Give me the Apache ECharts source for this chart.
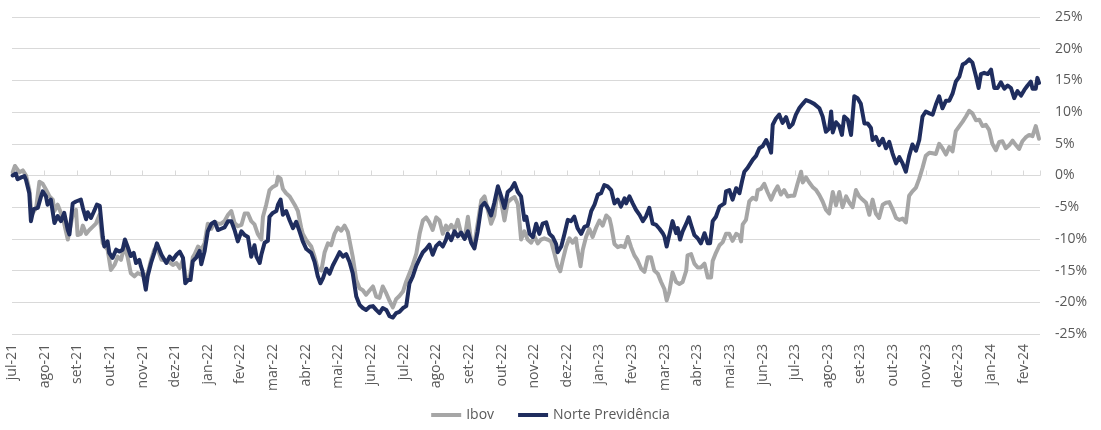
<!DOCTYPE html>
<html>
<head>
<meta charset="utf-8">
<script src="https://cdn.jsdelivr.net/npm/echarts@6.0.0/dist/echarts.min.js"></script>
<style>
html,body{margin:0;padding:0;background:#fff;}
#chart{width:1101px;height:430px;}
</style>
</head>
<body>
<div id="chart"></div>
<script>
// Month labels (x positions are months elapsed since jul-21)
const monthLabels = ['jul-21','ago-21','set-21','out-21','nov-21','dez-21','jan-22','fev-22','mar-22','abr-22','mai-22','jun-22','jul-22','ago-22','set-22','out-22','nov-22','dez-22','jan-23','fev-23','mar-23','abr-23','mai-23','jun-23','jul-23','ago-23','set-23','out-23','nov-23','dez-23','jan-24','fev-24'];

const yTicks = [-25,-20,-15,-10,-5,0,5,10,15,20,25];

// Ibov cumulative return (%), [months since jul-21, value]
const ibov = [
[0.02,0.5],[0.09,1.5],[0.23,0.5],[0.33,0.8],[0.43,0],[0.53,-2.2],[0.60,-6.2],[0.74,-5.1],[0.84,-1],[0.94,-1.3],[1.04,-2.2],[1.15,-3.3],[1.25,-3.8],[1.30,-5.6],[1.40,-4.6],[1.50,-5.9],[1.60,-7.6],[1.71,-10.1],[1.76,-10.4],[1.86,-6.2],[1.96,-5.4],[2.01,-9.4],[2.11,-9.2],[2.17,-7.9],[2.27,-9.2],[2.37,-8.6],[2.47,-8.1],[2.57,-7.6],[2.68,-6.2],[2.78,-10.7],[2.93,-11.7],[3.03,-14.9],[3.14,-14.1],[3.24,-12.8],[3.34,-13.3],[3.44,-11.2],[3.54,-12.8],[3.64,-15.4],[3.75,-15.9],[3.85,-15.4],[3.95,-15.6],[4.06,-15.9],[4.16,-15.4],[4.26,-13.3],[4.36,-11.7],[4.44,-11.3],[4.58,-13.3],[4.78,-13.5],[4.93,-14.1],[5.04,-13.8],[5.14,-14.6],[5.24,-13.3],[5.34,-16.5],[5.44,-16.2],[5.54,-12.9],[5.60,-12.4],[5.70,-11.2],[5.80,-11.7],[5.90,-10.7],[6.00,-7.6],[6.11,-8.4],[6.21,-7.3],[6.31,-7.6],[6.41,-7.6],[6.51,-7.2],[6.62,-6.2],[6.72,-5.6],[6.82,-7.5],[6.92,-8],[7.03,-7.8],[7.13,-6],[7.23,-6],[7.33,-7.2],[7.43,-7.7],[7.53,-9.2],[7.64,-10.1],[7.69,-6.5],[7.79,-4.6],[7.89,-2.3],[7.99,-1.8],[8.10,-1.5],[8.15,-0.2],[8.23,-0.5],[8.30,-2.1],[8.40,-2.8],[8.51,-3.3],[8.66,-4.6],[8.76,-5.6],[8.86,-8.2],[8.91,-9.2],[9.02,-10.2],[9.17,-11.2],[9.27,-12.8],[9.37,-14.7],[9.48,-15],[9.58,-12.1],[9.68,-10.7],[9.78,-11],[9.88,-9.2],[9.98,-8.2],[10.09,-8.7],[10.19,-7.9],[10.29,-8.9],[10.34,-9.2],[10.44,-12.8],[10.55,-16.5],[10.65,-17.8],[10.75,-18.1],[10.85,-18.8],[10.96,-18.1],[11.06,-17.5],[11.16,-19.1],[11.26,-19.3],[11.36,-17.5],[11.47,-18.6],[11.57,-19.8],[11.67,-20.8],[11.77,-19.5],[11.87,-19],[11.98,-18.3],[12.08,-16.7],[12.18,-15.4],[12.28,-14.1],[12.39,-12.3],[12.49,-9.2],[12.59,-7.1],[12.69,-6.6],[12.79,-7.4],[12.89,-8.6],[13.00,-6.6],[13.10,-7.1],[13.20,-9.2],[13.30,-7.9],[13.35,-8.6],[13.46,-7.8],[13.56,-8.6],[13.66,-7.0],[13.76,-9.1],[13.87,-9.9],[13.97,-6.5],[14.07,-10.4],[14.17,-10.7],[14.27,-7.6],[14.38,-3.9],[14.48,-3.3],[14.58,-5.4],[14.68,-7.6],[14.78,-6.3],[14.89,-2.1],[14.99,-4.2],[15.09,-7.1],[15.19,-4.2],[15.30,-3.7],[15.40,-3.4],[15.50,-4.5],[15.60,-10.1],[15.70,-8.8],[15.80,-10.1],[15.91,-10.6],[16.01,-9.6],[16.11,-10.7],[16.21,-10.1],[16.31,-9.9],[16.41,-10.1],[16.52,-10.4],[16.62,-12.3],[16.72,-14.3],[16.80,-15.1],[16.87,-13.5],[16.98,-11.2],[17.08,-9.9],[17.18,-10.6],[17.28,-9.9],[17.33,-11.7],[17.42,-14.3],[17.49,-11.7],[17.59,-9.7],[17.69,-8.4],[17.79,-9.7],[17.90,-8.2],[18.00,-7.1],[18.10,-7.9],[18.21,-6.3],[18.31,-6.8],[18.36,-7.9],[18.46,-10.8],[18.56,-11.3],[18.66,-11.1],[18.77,-11.3],[18.87,-9.7],[18.97,-11.3],[19.07,-12.6],[19.17,-13.4],[19.28,-14.7],[19.38,-15.2],[19.48,-12.9],[19.58,-12.9],[19.68,-15],[19.79,-15.5],[19.89,-16.8],[19.99,-17.9],[20.06,-19.7],[20.14,-18.4],[20.24,-15.3],[20.35,-16.8],[20.45,-17.1],[20.55,-16.8],[20.66,-15],[20.70,-12.6],[20.81,-12.4],[20.91,-13.9],[21.01,-14.5],[21.11,-14.5],[21.22,-13.9],[21.32,-16.1],[21.42,-16.1],[21.47,-13.5],[21.57,-12.2],[21.68,-11],[21.78,-10.5],[21.88,-9.2],[21.98,-9.2],[22.08,-10.3],[22.19,-9.2],[22.29,-9.5],[22.34,-10.4],[22.39,-7.7],[22.49,-7],[22.59,-4.1],[22.70,-3.5],[22.80,-3.8],[22.85,-2.3],[22.95,-2.1],[23.05,-1.3],[23.15,-2.6],[23.26,-3.8],[23.36,-2.6],[23.46,-1.7],[23.56,-3.0],[23.66,-2.3],[23.77,-3.3],[23.87,-3.2],[23.97,-3.2],[24.07,-1.3],[24.18,0.6],[24.23,-1.1],[24.33,-0.3],[24.43,-1.1],[24.53,-1.8],[24.64,-2.3],[24.74,-3.1],[24.84,-4.1],[24.94,-5.4],[25.04,-6],[25.15,-2.6],[25.25,-4.7],[25.35,-2.6],[25.45,-5],[25.56,-3.3],[25.66,-4.3],[25.76,-5],[25.86,-2.3],[25.96,-3.3],[26.06,-3.8],[26.17,-4.3],[26.27,-6.2],[26.37,-3.8],[26.47,-6],[26.57,-6.7],[26.68,-4.6],[26.78,-4.3],[26.88,-4.2],[26.98,-5.3],[27.09,-6.7],[27.19,-7],[27.29,-6.8],[27.39,-7.4],[27.49,-3.2],[27.59,-2.5],[27.70,-1.9],[27.80,-0.5],[27.90,1.2],[28.00,3.1],[28.11,3.6],[28.21,3.5],[28.31,3.4],[28.41,5.0],[28.51,4.3],[28.62,3.3],[28.72,4.5],[28.82,3.8],[28.92,7.0],[29.03,7.8],[29.13,8.5],[29.23,9.3],[29.33,10.2],[29.43,9.8],[29.54,8.7],[29.64,8.8],[29.74,7.8],[29.84,8],[29.94,7.2],[30.04,5.0],[30.15,4.0],[30.25,5.3],[30.35,5.4],[30.45,4.3],[30.56,4.8],[30.66,5.5],[30.76,4.8],[30.86,4.2],[30.96,5.4],[31.06,6.0],[31.17,6.4],[31.27,6.2],[31.37,7.8],[31.42,7.5],[31.47,5.8]
];

// Norte Previdência cumulative return (%), [months since jul-21, value]
const norte = [
[0.02,0],[0.12,0.3],[0.17,-0.6],[0.28,-0.3],[0.38,-0.1],[0.43,-0.7],[0.53,-2.8],[0.58,-7.2],[0.66,-5.3],[0.79,-5.1],[0.89,-3.3],[0.94,-2.5],[1.04,-3.3],[1.09,-4.6],[1.19,-3.8],[1.30,-7.5],[1.40,-6.4],[1.50,-7.2],[1.60,-5.9],[1.71,-8.6],[1.76,-9.3],[1.86,-4.4],[1.96,-4.1],[2.11,-3.8],[2.17,-5.1],[2.27,-6.9],[2.32,-5.8],[2.42,-6.7],[2.50,-5.8],[2.60,-4.6],[2.69,-4.8],[2.78,-9.6],[2.83,-11.2],[2.93,-10.4],[2.98,-12.2],[3.08,-13],[3.19,-11.7],[3.29,-12],[3.39,-11.7],[3.46,-10.1],[3.54,-11.2],[3.64,-12.7],[3.73,-12.2],[3.80,-13.8],[3.90,-13.3],[3.95,-14.3],[4.00,-15.1],[4.06,-15.3],[4.10,-18],[4.16,-15.8],[4.26,-13.8],[4.36,-12.2],[4.44,-10.7],[4.58,-12.5],[4.73,-13.8],[4.83,-12.8],[4.93,-13.3],[5.04,-12.5],[5.14,-12],[5.24,-13],[5.31,-17],[5.39,-16.5],[5.47,-16.5],[5.54,-13.5],[5.65,-12.9],[5.75,-11.9],[5.80,-14],[5.90,-12],[6.00,-8.8],[6.11,-7.6],[6.21,-7.3],[6.31,-8.6],[6.41,-8.4],[6.51,-8.2],[6.62,-7.2],[6.72,-7.2],[6.82,-8.6],[6.92,-10.4],[7.03,-8.8],[7.13,-9.4],[7.23,-9.7],[7.33,-12.8],[7.43,-11],[7.49,-12.8],[7.59,-13.8],[7.64,-12.5],[7.74,-10.6],[7.84,-10.3],[7.89,-6.5],[7.99,-5.9],[8.10,-5.6],[8.15,-4.6],[8.23,-3.8],[8.30,-6.2],[8.40,-5.6],[8.51,-7.1],[8.61,-8.3],[8.71,-7.3],[8.81,-8.8],[8.91,-10.4],[9.02,-11.6],[9.17,-12.2],[9.27,-13.6],[9.37,-15.9],[9.45,-17],[9.53,-16.2],[9.63,-14.7],[9.73,-15.5],[9.83,-14.2],[9.94,-13.1],[10.04,-12.1],[10.14,-12.8],[10.24,-12.4],[10.34,-13.6],[10.44,-15.4],[10.55,-19.1],[10.65,-20.4],[10.75,-20.9],[10.85,-21.2],[10.96,-20.7],[11.06,-20.6],[11.16,-21.2],[11.26,-21.7],[11.36,-20.9],[11.47,-21.2],[11.57,-22.2],[11.67,-22.4],[11.77,-21.7],[11.87,-21.5],[11.98,-20.9],[12.08,-20.6],[12.18,-17],[12.28,-15.9],[12.39,-14.2],[12.49,-13.1],[12.59,-12.1],[12.69,-11.6],[12.79,-10.9],[12.89,-12.5],[13.00,-11.1],[13.10,-10.6],[13.20,-11.2],[13.30,-10.1],[13.35,-9.2],[13.46,-10.2],[13.56,-8.8],[13.66,-9.6],[13.76,-9],[13.87,-10],[13.97,-8.8],[14.07,-10.6],[14.17,-11.5],[14.27,-8.8],[14.38,-4.9],[14.48,-4.3],[14.58,-5.1],[14.68,-6.3],[14.78,-4.3],[14.89,-1.7],[14.99,-3.3],[15.09,-5.1],[15.19,-2.6],[15.30,-2.1],[15.40,-1.2],[15.50,-2.6],[15.60,-3.3],[15.70,-7],[15.76,-6.5],[15.86,-9.2],[15.96,-9.7],[16.06,-7.6],[16.16,-9.2],[16.26,-7.6],[16.37,-7.4],[16.47,-9.2],[16.57,-9.7],[16.67,-10.8],[16.72,-12.1],[16.83,-11.2],[16.93,-9.2],[17.03,-7],[17.13,-7.2],[17.23,-6.5],[17.33,-8.3],[17.44,-9.2],[17.54,-8.1],[17.64,-7.9],[17.75,-5.6],[17.85,-4.6],[17.95,-3.0],[18.05,-2.8],[18.15,-1.5],[18.25,-1.7],[18.36,-2.3],[18.46,-4.4],[18.56,-3.8],[18.66,-4.9],[18.77,-3.6],[18.82,-4.4],[18.92,-3.3],[19.02,-4.4],[19.12,-5.4],[19.23,-6.2],[19.33,-7.2],[19.43,-6.4],[19.53,-5.1],[19.63,-7.6],[19.74,-7.8],[19.84,-8.4],[19.94,-9.1],[19.99,-9.6],[20.06,-11.2],[20.14,-9.4],[20.24,-7.2],[20.35,-9.1],[20.40,-8.3],[20.47,-10.1],[20.55,-8.8],[20.66,-7.6],[20.74,-6.6],[20.81,-7.8],[20.91,-9.4],[21.01,-9.9],[21.11,-10.7],[21.22,-9.1],[21.32,-10.7],[21.39,-10.7],[21.47,-7.2],[21.57,-6.5],[21.68,-4.9],[21.83,-4.4],[21.88,-2.5],[21.98,-2.3],[22.08,-3.8],[22.19,-2.0],[22.29,-2.8],[22.37,-0.9],[22.44,0.6],[22.54,1.2],[22.70,2.5],[22.80,3.1],[22.90,4.3],[23.00,4.6],[23.11,5.6],[23.21,4.4],[23.26,3.6],[23.31,8],[23.41,9],[23.51,9.6],[23.61,8.3],[23.72,9.2],[23.82,7.6],[23.92,8.1],[24.02,9.6],[24.12,10.6],[24.23,11.3],[24.33,11.9],[24.43,11.7],[24.58,11.3],[24.74,10.6],[24.84,9.3],[24.94,6.9],[25.04,7.4],[25.10,10.1],[25.15,6.8],[25.25,8.4],[25.35,7.8],[25.43,6.4],[25.50,9.3],[25.61,8.8],[25.71,6.4],[25.81,12.5],[25.91,12.2],[26.01,11.3],[26.12,8.2],[26.22,8.2],[26.32,7.5],[26.37,5.6],[26.47,6.1],[26.57,4.8],[26.68,5.8],[26.78,4.3],[26.88,5.3],[26.98,3.5],[27.09,1.9],[27.19,2.9],[27.29,1.9],[27.39,0.6],[27.49,3.1],[27.59,4.9],[27.70,3.9],[27.80,5.6],[27.90,9.3],[28.00,10.1],[28.11,9.8],[28.21,9.6],[28.31,11.2],[28.41,12.5],[28.51,10.6],[28.62,11.8],[28.72,11.8],[28.82,12.9],[28.92,14.8],[29.03,15.6],[29.13,17.5],[29.23,17.8],[29.33,18.3],[29.43,17.8],[29.54,15.6],[29.62,13.8],[29.69,16],[29.79,16.2],[29.90,16],[30.00,16.7],[30.10,13.8],[30.20,13.8],[30.30,14.7],[30.41,13.7],[30.51,14.2],[30.61,13.8],[30.71,12.2],[30.81,13.3],[30.92,12.6],[31.02,13.5],[31.12,14.2],[31.22,14.8],[31.27,13.7],[31.37,13.7],[31.42,15.4],[31.47,14.6]
];

const FONT = '"Open Sans", "Noto Sans", sans-serif';
const TXT = '#595959';
const GRID = '#d9d9d9';

const chart = echarts.init(document.getElementById('chart'), null, {renderer: 'canvas'});
chart.setOption({
  animation: false,
  backgroundColor: '#ffffff',
  grid: {left: 12, right: 61, top: 17, bottom: 96, containLabel: false},
  legend: {
    bottom: 3,
    left: 'center',
    itemWidth: 30,
    itemHeight: 4,
    itemGap: 24,
    icon: 'rect',
    textStyle: {color: TXT, fontSize: 14, fontFamily: FONT},
    data: ['Ibov', 'Norte Previdência']
  },
  xAxis: [
    {
      type: 'value', min: 0, max: 31.5, interval: 1,
      axisLine: {onZero: true, lineStyle: {color: GRID, width: 1}},
      axisTick: {show: true, inside: true, length: 5, lineStyle: {color: GRID}},
      axisLabel: {show: false},
      splitLine: {show: false}
    },
    {
      type: 'value', min: 0, max: 31.5, interval: 1, position: 'bottom',
      axisLine: {show: false, onZero: false},
      axisTick: {show: false},
      splitLine: {show: false},
      axisLabel: {
        rotate: 90, margin: 10, color: TXT, fontSize: 14, fontFamily: FONT,
        formatter: v => Number.isInteger(v) && monthLabels[v] ? monthLabels[v] : ''
      }
    }
  ],
  yAxis: {
    type: 'value', position: 'right',
    min: yTicks[0], max: yTicks[yTicks.length - 1], interval: 5,
    axisLine: {show: false},
    axisTick: {show: false},
    splitLine: {show: true, lineStyle: {color: GRID, width: 1}},
    axisLabel: {formatter: '{value}%', color: TXT, fontSize: 14, fontFamily: FONT, margin: 15, align: 'left'}
  },
  series: [
    {
      name: 'Ibov', type: 'line', xAxisIndex: 0, data: ibov,
      showSymbol: false, symbol: 'none',
      itemStyle: {color: '#a6a6a6'},
      lineStyle: {color: '#a6a6a6', width: 4, join: 'round', cap: 'round'}
    },
    {
      name: 'Norte Previdência', type: 'line', xAxisIndex: 0, data: norte,
      showSymbol: false, symbol: 'none',
      itemStyle: {color: '#1f2d5e'},
      lineStyle: {color: '#1f2d5e', width: 4, join: 'round', cap: 'round'}
    }
  ]
});
</script>
</body>
</html>
